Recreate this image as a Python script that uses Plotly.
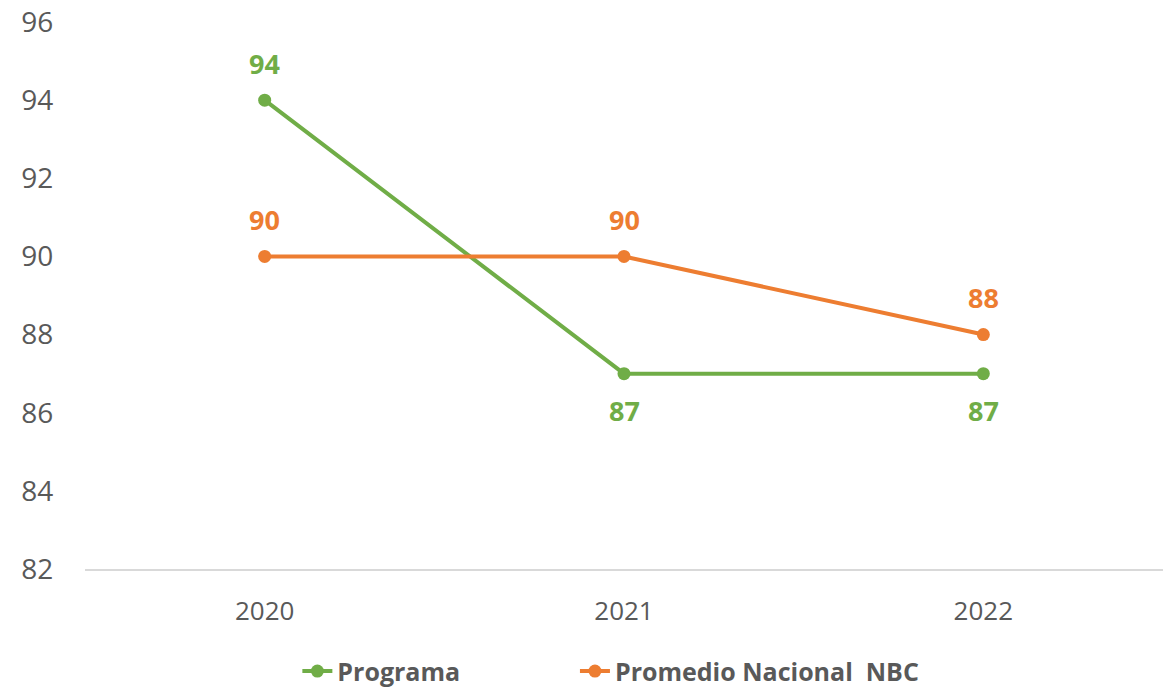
import plotly.graph_objects as go

years = ["2020", "2021", "2022"]
programa = [94, 87, 87]
promedio = [90, 90, 88]
programa_label_dir = [1, -1, -1]
promedio_label_dir = [1, 1, 1]
y_ticks = [82, 84, 86, 88, 90, 92, 94, 96]

GREEN = "#70AD47"
ORANGE = "#ED7D31"
GRAY = "#595959"
FONT = "Open Sans"

fig = go.Figure()
fig.add_trace(go.Scatter(
    x=years, y=programa, name="Programa", mode="lines+markers",
    line=dict(color=GREEN, width=4), marker=dict(size=13, color=GREEN),
    legend="legend",
))
fig.add_trace(go.Scatter(
    x=years, y=promedio, name="Promedio Nacional  NBC", mode="lines+markers",
    line=dict(color=ORANGE, width=4), marker=dict(size=13, color=ORANGE),
    legend="legend2",
))

for ys, dirs, col in [(programa, programa_label_dir, GREEN),
                      (promedio, promedio_label_dir, ORANGE)]:
    for i, (y, d) in enumerate(zip(ys, dirs)):
        fig.add_annotation(x=i, y=y, xref="x", yref="y", text=str(y),
                           showarrow=False, yshift=37 * d,
                           font=dict(family=FONT, size=27, color=col, weight="bold"))

legend_common = dict(orientation="h", yanchor="middle", y=-0.187, xanchor="left",
                     font=dict(family=FONT, size=25, color=GRAY, weight="bold"),
                     bgcolor="rgba(0,0,0,0)", borderwidth=0)

fig.update_layout(
    width=1163, height=690,
    margin=dict(l=85, r=0, t=22, b=121, autoexpand=False),
    paper_bgcolor="white", plot_bgcolor="white",
    font=dict(family=FONT, color=GRAY),
    showlegend=True,
    legend=dict(x=0.197, **legend_common),
    legend2=dict(x=0.4545, **legend_common),
    xaxis=dict(type="category", range=[-0.5, 2.5], showgrid=False, showline=True,
               linecolor="#D9D9D9", linewidth=2, automargin=False,
               tickfont=dict(family=FONT, size=26, color=GRAY),
               ticks="outside", ticklen=18, tickcolor="rgba(0,0,0,0)",
               zeroline=False),
    yaxis=dict(range=[82, 96], tickvals=y_ticks, showgrid=False, showline=False,
               zeroline=False, automargin=False, ticklabeloverflow="allow",
               tickfont=dict(family=FONT, size=28, color=GRAY),
               ticks="outside", ticklen=25, tickcolor="rgba(0,0,0,0)"),
)

fig.write_html("out.html", config={"displayModeBar": False},
               post_script="document.body.style.margin='0';document.body.style.overflow='hidden';")
